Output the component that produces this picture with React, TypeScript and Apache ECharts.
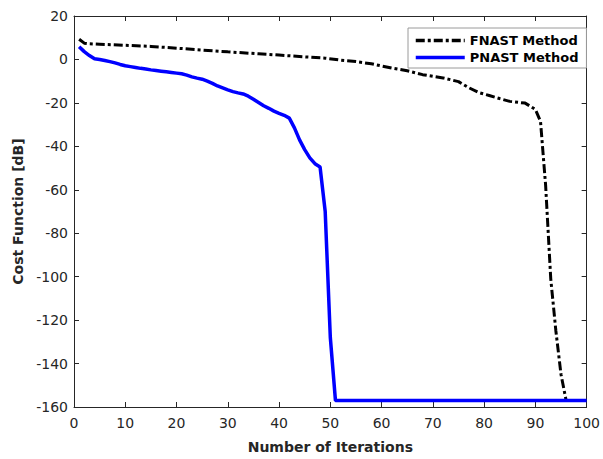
import React, { useEffect, useRef } from "react";
import * as echarts from "echarts";

const xTicks = { min: 0, max: 100, interval: 10 };
const yTicks = { min: -160, max: 20, interval: 20 };

const seriesNames = ["FNAST Method", "PNAST Method"];

const fnastX = [1, 2, 3, 5, 10, 15, 20, 25, 30, 36, 40, 45, 49, 52, 55, 58, 62, 65, 68, 72, 75, 77, 79, 81, 83, 85, 88, 90, 91, 92, 93, 94, 95, 96, 100];
const fnastY = [9.3, 7.5, 7.2, 7, 6.5, 6, 5.2, 4.3, 3.5, 2.6, 2, 1.2, 0.6, -0.3, -1, -2, -4, -5.2, -7, -8.5, -10.2, -13, -15.3, -16.6, -18, -19.3, -20.1, -23, -28.5, -58, -101, -125, -145, -157, -157];

const pnastX = [1, 2, 3, 4, 5, 6, 7, 8, 9, 10, 11, 12, 13, 14, 15, 16, 17, 18, 19, 20, 21, 22, 23, 24, 25, 26, 27, 28, 29, 30, 31, 32, 33, 34, 35, 36, 37, 38, 39, 40, 41, 42, 43, 44, 45, 46, 47, 48, 49, 50, 51, 100];
const pnastY = [5.9, 3.6, 1.8, 0.3, 0, -0.5, -1, -1.6, -2.3, -2.9, -3.3, -3.7, -4.1, -4.4, -4.8, -5.1, -5.4, -5.7, -6, -6.3, -6.6, -7.2, -8, -8.6, -9.1, -10, -11, -12.2, -13.1, -14, -14.8, -15.4, -15.9, -16.9, -18.3, -19.8, -21.3, -22.5, -23.8, -24.8, -25.7, -27, -31.5, -37, -41.5, -45.3, -48, -49.5, -70, -128, -157, -157];

const FONT = "DejaVu Sans";
const AXIS_COLOR = "#262626";

export default function App() {
  const ref = useRef<HTMLDivElement>(null);
  useEffect(() => {
    if (!ref.current) return;
    const chart = echarts.init(ref.current, undefined, { renderer: "svg" });
    const axisLine = { show: true, onZero: false, lineStyle: { color: AXIS_COLOR, width: 1 } };
    const tick = { show: true, inside: true, length: 5, lineStyle: { color: AXIS_COLOR, width: 1 } };
    const label = { fontFamily: FONT, fontSize: 14, color: AXIS_COLOR };
    chart.setOption({
      animation: false,
      backgroundColor: "#ffffff",
      grid: { left: 74, right: 13, top: 16, bottom: 51, containLabel: false },
      legend: {
        data: seriesNames,
        orient: "vertical",
        left: 408,
        top: 28,
        itemWidth: 49,
        itemHeight: 14,
        itemGap: 4,
        padding: [6, 8, 4, 6],
        borderColor: "#9a9a9a",
        borderWidth: 1,
        backgroundColor: "#ffffff",
        itemStyle: { opacity: 0 },
        lineStyle: { width: 3.5 },
        textStyle: { fontFamily: FONT, fontSize: 13, fontWeight: "bold", color: "#000" },
      },
      xAxis: [
        {
          type: "value",
          ...xTicks,
          position: "bottom",
          axisLine,
          axisTick: tick,
          splitLine: { show: false },
          axisLabel: { ...label, margin: 9 },
          name: "Number of Iterations",
          nameLocation: "middle",
          nameGap: 33,
          nameTextStyle: { fontFamily: FONT, fontSize: 14, fontWeight: "bold", color: AXIS_COLOR },
        },
        {
          type: "value",
          ...xTicks,
          position: "top",
          axisLine,
          axisTick: tick,
          splitLine: { show: false },
          axisLabel: { show: false },
        },
      ],
      yAxis: [
        {
          type: "value",
          ...yTicks,
          position: "left",
          axisLine,
          axisTick: tick,
          splitLine: { show: false },
          axisLabel: { ...label, margin: 6 },
          name: "Cost Function [dB]",
          nameLocation: "middle",
          nameGap: 45,
          nameTextStyle: { fontFamily: FONT, fontSize: 14, fontWeight: "bold", color: AXIS_COLOR },
        },
        {
          type: "value",
          ...yTicks,
          position: "right",
          axisLine,
          axisTick: tick,
          splitLine: { show: false },
          axisLabel: { show: false },
        },
      ],
      series: [
        {
          name: seriesNames[0],
          type: "line",
          xAxisIndex: 0,
          yAxisIndex: 0,
          showSymbol: false,
          symbol: "none",
          data: fnastX.map((x, i) => [x, fnastY[i]]),
          lineStyle: { color: "#000000", width: 3, type: [9, 3, 3, 3] },
          itemStyle: { color: "#000000" },
        },
        {
          name: seriesNames[1],
          type: "line",
          xAxisIndex: 0,
          yAxisIndex: 0,
          showSymbol: false,
          symbol: "none",
          data: pnastX.map((x, i) => [x, pnastY[i]]),
          lineStyle: { color: "#0000ff", width: 3.5 },
          itemStyle: { color: "#0000ff" },
        },
      ],
    });
    return () => chart.dispose();
  }, []);
  return (
    <div
      ref={ref}
      style={{ position: "fixed", left: 0, top: 0, width: 603, height: 459 }}
    />
  );
}
